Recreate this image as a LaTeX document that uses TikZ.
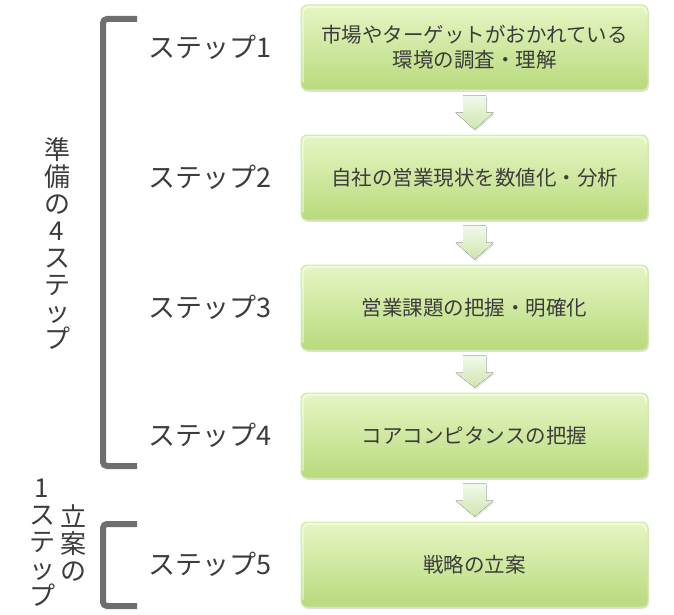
\documentclass[tikz,border=0pt]{standalone}
\usepackage{fontspec}
\setmainfont{Noto Sans CJK JP}
\usetikzlibrary{calc,shadows}
\definecolor{boxtop}{HTML}{E6F6C4}
\definecolor{boxbot}{HTML}{B8DA7C}
\definecolor{boxline}{HTML}{D2EAA8}
\definecolor{txt}{HTML}{3C3C3C}
\definecolor{brk}{HTML}{6E6E6E}
\definecolor{arrtop}{HTML}{F2F9EA}
\definecolor{arrbot}{HTML}{CDE6AF}
\begin{document}
\begin{tikzpicture}[x=1pt,y=-1pt,
  stepbox/.style={draw=boxline, line width=1pt, rounded corners=6pt,
    top color=boxtop, bottom color=boxbot, minimum width=347pt, minimum height=85pt,
    text width=340pt, align=center, font=\fontsize{20.5}{25}\selectfont, text=txt,
    inner sep=0pt, drop shadow={opacity=0.25, shadow xshift=0.8pt, shadow yshift=-1.8pt}},
  gloss/.style={draw=white, opacity=0.65, line width=1.2pt, rounded corners=5pt},
  steplabel/.style={anchor=west, font=\fontsize{27}{30}\selectfont, text=txt, inner sep=0pt},
  vtext/.style={align=center, font=\fontsize{26}{27}\selectfont, text=txt, inner sep=0pt},
  blockarrow/.style={top color=arrtop, bottom color=arrbot, draw=none,
    drop shadow={opacity=0.25, shadow xshift=1pt, shadow yshift=-1.5pt}},
  bracket/.style={draw=brk, line width=6pt, rounded corners=4pt}
]
\useasboundingbox (0,0) rectangle (674,615);

% boxes
\node[stepbox] (b1) at (474.5,47.5) {市場やターゲットがおかれている\\環境の調査・理解};
\node[stepbox] (b2) at (474.5,177.5) {自社の営業現状を数値化・分析};
\node[stepbox] (b3) at (474.5,307.5) {営業課題の把握・明確化};
\node[stepbox] (b4) at (474.5,435.5) {コアコンピタンスの把握};
\node[stepbox] (b5) at (474.5,564.5) {戦略の立案};

\foreach \b in {b1,b2,b3,b4,b5}{
  \draw[gloss] ($(\b.south west)+(2.5,-8)$) -- ($(\b.north west)+(2.5,2.5)$) -- ($(\b.north east)+(-2.5,2.5)$) -- ($(\b.north east)+(-2.5,10)$);
}

% block arrows
\foreach \i/\j in {b1/b2,b2/b3,b3/b4,b4/b5}{
  \fill[blockarrow] ($(\i.south)+(-11.5,5)$) -- ($(\i.south)+(11.5,5)$) -- ($(\i.south)+(11.5,22)$)
    -- ($(\i.south)+(19,22)$) -- ($(\j.north)+(0,-5)$) -- ($(\i.south)+(-19,22)$)
    -- ($(\i.south)+(-11.5,22)$) -- cycle;
}

% step labels
\node[steplabel] (s1) at (148,47.5) {ステップ1};
\node[steplabel] (s2) at (148,177.5) {ステップ2};
\node[steplabel] (s3) at (148,307.5) {ステップ3};
\node[steplabel] (s4) at (148,435.5) {ステップ4};
\node[steplabel] (s5) at (148,564.5) {ステップ5};

% brackets
\draw[bracket] (137,19) -- (103,19) -- (103,466) -- (137,466);
\draw[bracket] (137,524) -- (103,524) -- (103,606) -- (137,606);

% vertical texts
\node[vtext] (prep) at (57,243) {準\\備\\の\\4\\ス\\テ\\ッ\\プ};
\node[vtext] (plana) at (73,543) {立\\案\\の};
\node[vtext] (planb) at (42,543) {1\\ス\\テ\\ッ\\プ};
\end{tikzpicture}
\end{document}
